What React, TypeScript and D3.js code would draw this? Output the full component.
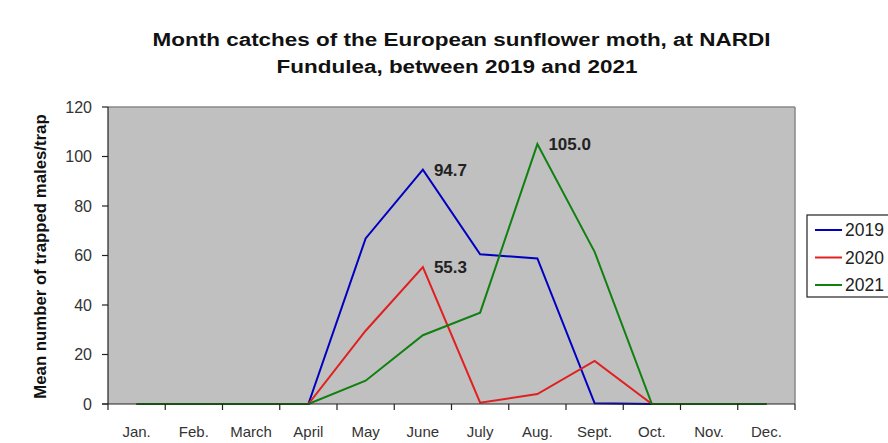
import React from "react";
import * as d3 from "d3";

const months = ["Jan.", "Feb.", "March", "April", "May", "June", "July", "Aug.", "Sept.", "Oct.", "Nov.", "Dec."];
const series2019 = [0, 0, 0, 0, 66.9, 94.7, 60.5, 58.8, 0.3, 0, 0, 0];
const series2020 = [0, 0, 0, 0, 29.6, 55.3, 0.5, 4.0, 17.4, 0, 0, 0];
const series2021 = [0, 0, 0, 0, 9.4, 27.8, 36.9, 105.0, 61.5, 0, 0, 0];
const yTicks = [0, 20, 40, 60, 80, 100, 120];
const seriesNames = ["2019", "2020", "2021"];
const seriesColors = ["#0000c0", "#e02020", "#108010"];
const titleLines = ["Month catches of the European sunflower moth, at NARDI", "Fundulea, between 2019 and 2021"];
// labelled peaks: [series index, month index]
const peakLabels: [number, number][] = [
  [0, 5],
  [1, 5],
  [2, 7],
];

const W = 888;
const H = 443;
const plot = { left: 108, right: 795, top: 107, bottom: 404 };

export default function App() {
  const allSeries = [series2019, series2020, series2021];
  const x = d3.scaleBand<string>().domain(months).range([plot.left, plot.right]);
  const y = d3.scaleLinear().domain([0, 120]).range([plot.bottom, plot.top]);
  const cx = (m: string) => (x(m) ?? 0) + x.bandwidth() / 2;
  const line = d3
    .line<number>()
    .x((_, i) => cx(months[i]))
    .y((v) => y(v));
  const tickXs = d3.range(months.length + 1).map((k) => plot.left + k * x.bandwidth());
  const font = "Arial, 'Liberation Sans', sans-serif";

  return (
    <svg width={W} height={H} style={{ position: "absolute", left: 0, top: 0, background: "#fff" }} fontFamily={font}>
      {/* title, in a wide bold face */}
      <g transform="translate(461.5, 46) scale(1.215, 1)">
        <text x={0} y={0} textAnchor="middle" fontSize={18.5} fontWeight="bold" fill="#111">
          {titleLines[0]}
        </text>
      </g>
      <g transform="translate(457, 73) scale(1.215, 1)">
        <text x={0} y={0} textAnchor="middle" fontSize={18.5} fontWeight="bold" fill="#111">
          {titleLines[1]}
        </text>
      </g>

      {/* plot area */}
      <rect x={plot.left} y={plot.top} width={plot.right - plot.left} height={plot.bottom - plot.top} fill="#c0c0c0" />
      <line x1={plot.left} x2={plot.right} y1={plot.top} y2={plot.top} stroke="#888" strokeWidth={1.5} />
      <line x1={plot.right} x2={plot.right} y1={plot.top} y2={plot.bottom} stroke="#888" strokeWidth={1.5} />

      {/* series */}
      {allSeries.map((s, i) => (
        <path key={i} d={line(s) ?? ""} fill="none" stroke={seriesColors[i]} strokeWidth={2} strokeLinejoin="miter" />
      ))}

      {/* axes */}
      <line x1={plot.left} x2={plot.left} y1={plot.top} y2={plot.bottom} stroke="#222" strokeWidth={1.2} />
      <line x1={plot.left - 6} x2={plot.right} y1={plot.bottom} y2={plot.bottom} stroke="#222" strokeWidth={1.2} />
      {yTicks.map((t) => (
        <g key={t}>
          <line x1={plot.left - 6} x2={plot.left} y1={y(t)} y2={y(t)} stroke="#222" strokeWidth={1.2} />
          <text x={plot.left - 16} y={y(t)} dy="0.35em" textAnchor="end" fontSize={16} fill="#333">
            {t}
          </text>
        </g>
      ))}
      {tickXs.map((tx, k) => (
        <line key={k} x1={tx} x2={tx} y1={plot.bottom} y2={plot.bottom + 6} stroke="#222" strokeWidth={1.2} />
      ))}
      {months.map((m) => (
        <text key={m} x={cx(m)} y={437} textAnchor="middle" fontSize={15} fill="#333">
          {m}
        </text>
      ))}

      {/* y axis title */}
      <text
        transform={`translate(46, ${(113 + 400) / 2}) rotate(-90)`}
        textAnchor="middle"
        fontSize={16.8}
        fontWeight="bold"
        fill="#111"
      >
        Mean number of trapped males/trap
      </text>

      {/* peak value labels */}
      {peakLabels.map(([si, mi]) => {
        const v = allSeries[si][mi];
        return (
          <text key={`${si}-${mi}`} x={cx(months[mi]) + 11} y={y(v)} dy="0.35em" fontSize={17} fontWeight="bold" fill="#222">
            {v.toFixed(1)}
          </text>
        );
      })}

      {/* legend */}
      <rect x={807} y={215} width={100} height={82} fill="#fff" stroke="#222" strokeWidth={1.2} />
      {seriesNames.map((n, i) => (
        <g key={n}>
          <line x1={815} x2={842} y1={230 + i * 27.5} y2={230 + i * 27.5} stroke={seriesColors[i]} strokeWidth={2} />
          <text x={845} y={230 + i * 27.5} dy="0.36em" fontSize={17.5} fill="#222">
            {n}
          </text>
        </g>
      ))}
    </svg>
  );
}
